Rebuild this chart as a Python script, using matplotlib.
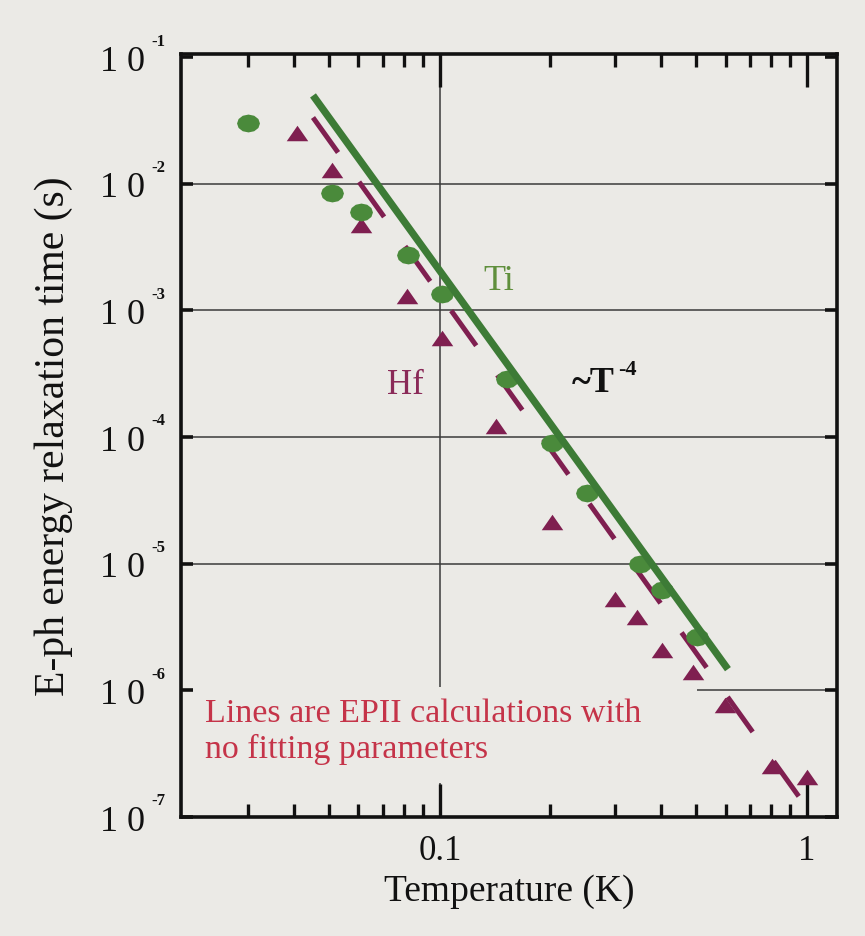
import numpy as np
import matplotlib
matplotlib.use('Agg')
import matplotlib.pyplot as plt
from matplotlib.patches import Rectangle
from matplotlib.ticker import FixedLocator, NullFormatter, FixedFormatter

plt.rcParams['font.family'] = ['Liberation Serif', 'DejaVu Serif']

# Ti data (green circles)
ti_T   = [0.030, 0.0508, 0.0609, 0.0818, 0.101, 0.152, 0.202, 0.252, 0.351, 0.402, 0.501]
ti_tau = [3.05e-2, 8.5e-3, 6.0e-3, 2.74e-3, 1.36e-3, 2.88e-4, 8.95e-5, 3.6e-5, 1.0e-5, 6.2e-6, 2.64e-6]

# Hf data (triangles)
hf_T   = [0.0408, 0.0508, 0.0609, 0.0813, 0.101, 0.142, 0.202, 0.300, 0.344, 0.402, 0.489, 0.598, 0.801, 1.0]
hf_tau = [2.54e-2, 1.29e-2, 4.73e-3, 1.31e-3, 6.1e-4, 1.22e-4, 2.15e-5, 5.27e-6, 3.8e-6, 2.07e-6, 1.39e-6, 7.7e-7, 2.54e-7, 2.07e-7]

# EPII calculation lines (end points)
ti_line_T   = [0.0451, 0.609]
ti_line_tau = [4.99e-2, 1.47e-6]
hf_line_T   = [0.0451, 0.988]
hf_line_tau = [3.34e-2, 1.24e-7]

ydecades = [1e-7, 1e-6, 1e-5, 1e-4, 1e-3, 1e-2, 1e-1]
yexp = ['-7', '-6', '-5', '-4', '-3', '-2', '-1']
xmajor = [0.1, 1.0]
xmajor_lab = ['0.1', '1']
xminor = [0.03, 0.04, 0.05, 0.06, 0.07, 0.08, 0.09,
          0.2, 0.3, 0.4, 0.5, 0.6, 0.7, 0.8, 0.9]

bg = '#ebeae6'
green = '#3d7b36'
green_m = '#4a8a3b'
maroon = '#7f1f50'

fig = plt.figure(figsize=(8.65, 9.37), dpi=100, facecolor=bg)
ax = fig.add_axes([0.2092, 0.127, 0.7584, 0.8143], facecolor=bg)
ax.set_xscale('log')
ax.set_yscale('log')
ax.set_xlim(0.0197, 1.207)
ax.set_ylim(1e-7, 1.06e-1)

# grid lines (only at 0.1 in x, decades in y)
for yv in ydecades[1:-1]:
    ax.axhline(yv, color='#3a3a3a', lw=1.1, zorder=1)
ax.axvline(0.1, color='#3a3a3a', lw=1.1, zorder=1)

# background box behind the note (hides grid there)
ax.add_patch(Rectangle((0, 0.045), 0.787, 0.125, transform=ax.transAxes,
                       facecolor=bg, edgecolor='none', zorder=1.5))

# lines
ax.plot(hf_line_T, hf_line_tau, color=maroon, lw=3.6,
        ls=(0, (31/3.6, 26/3.6)), dash_capstyle='butt', zorder=2)
ax.plot(ti_line_T, ti_line_tau, color=green, lw=5.2,
        solid_capstyle='butt', zorder=4)

tri = [(-1, -0.72), (1, -0.72), (0, 0.72)]
t = np.linspace(0, 2*np.pi, 13)[:-1]
ell = [(np.cos(a), 0.78*np.sin(a)) for a in t]
ax.plot(hf_T, hf_tau, ls='none', marker=tri, ms=15.5, color=maroon, mec='none', zorder=3)
ax.plot(ti_T, ti_tau, ls='none', marker=ell, ms=16.5, color=green_m, mec='none', zorder=3.5)

# ticks
ax.xaxis.set_major_locator(FixedLocator(xmajor))
ax.xaxis.set_major_formatter(FixedFormatter(xmajor_lab))
ax.xaxis.set_minor_locator(FixedLocator(xminor))
ax.xaxis.set_minor_formatter(NullFormatter())
ax.yaxis.set_major_locator(FixedLocator(ydecades))
ax.yaxis.set_major_formatter(FixedFormatter(['1 0'] * len(ydecades)))
ax.yaxis.set_minor_locator(FixedLocator([]))

ax.tick_params(axis='x', which='major', direction='in', length=24, width=2.4,
               top=True, labelsize=25, pad=12, colors='#111111')
ax.tick_params(axis='x', which='minor', direction='in', length=9.5, width=2.4,
               top=True, colors='#111111')
ax.tick_params(axis='y', which='major', direction='in', length=8.5, width=2.6,
               right=True, labelsize=26, pad=26, colors='#111111')
for sp in ax.spines.values():
    sp.set_linewidth(2.6)
    sp.set_color('#111111')

for yv, e in zip(ydecades, yexp):
    ax.annotate(e, xy=(0, yv), xycoords=('axes fraction', 'data'),
                xytext=(-16, 12), textcoords='offset points',
                ha='center', va='center', fontsize=12, fontweight='bold',
                color='#111111', annotation_clip=False)

ax.set_xlabel('Temperature (K)', fontsize=27, color='#111111')
ax.xaxis.set_label_coords(0.5, -0.074)
ax.xaxis.label.set_va('top')
ax.set_ylabel('E-ph energy relaxation time (s)', fontsize=30, color='#111111')
ax.yaxis.set_label_coords(-0.165, 0.5)

# annotations
ax.text(0.1448, 1.73e-3, 'Ti', color='#5f8f3c', fontsize=26, ha='center', va='center', zorder=5)
ax.text(0.0803, 2.59e-4, 'Hf', color='#8a2a58', fontsize=25, ha='center', va='center', zorder=5)
ax.text(0.229, 2.7e-4, '~T', color='#111111', fontsize=26,
        fontweight='bold', ha='left', va='center', zorder=5)
ax.annotate('-4', xy=(0.229, 2.7e-4), xytext=(33, 10), textcoords='offset points',
            color='#111111', fontsize=16, fontweight='bold', ha='left', va='center', zorder=5)
ax.text(0.0366, 0.156, 'Lines are EPII calculations with\nno fitting parameters',
        transform=ax.transAxes, color='#c53449', fontsize=24.5, ha='left', va='top',
        linespacing=1.2, zorder=5)

fig.savefig('out.png', dpi=100, facecolor=bg)
